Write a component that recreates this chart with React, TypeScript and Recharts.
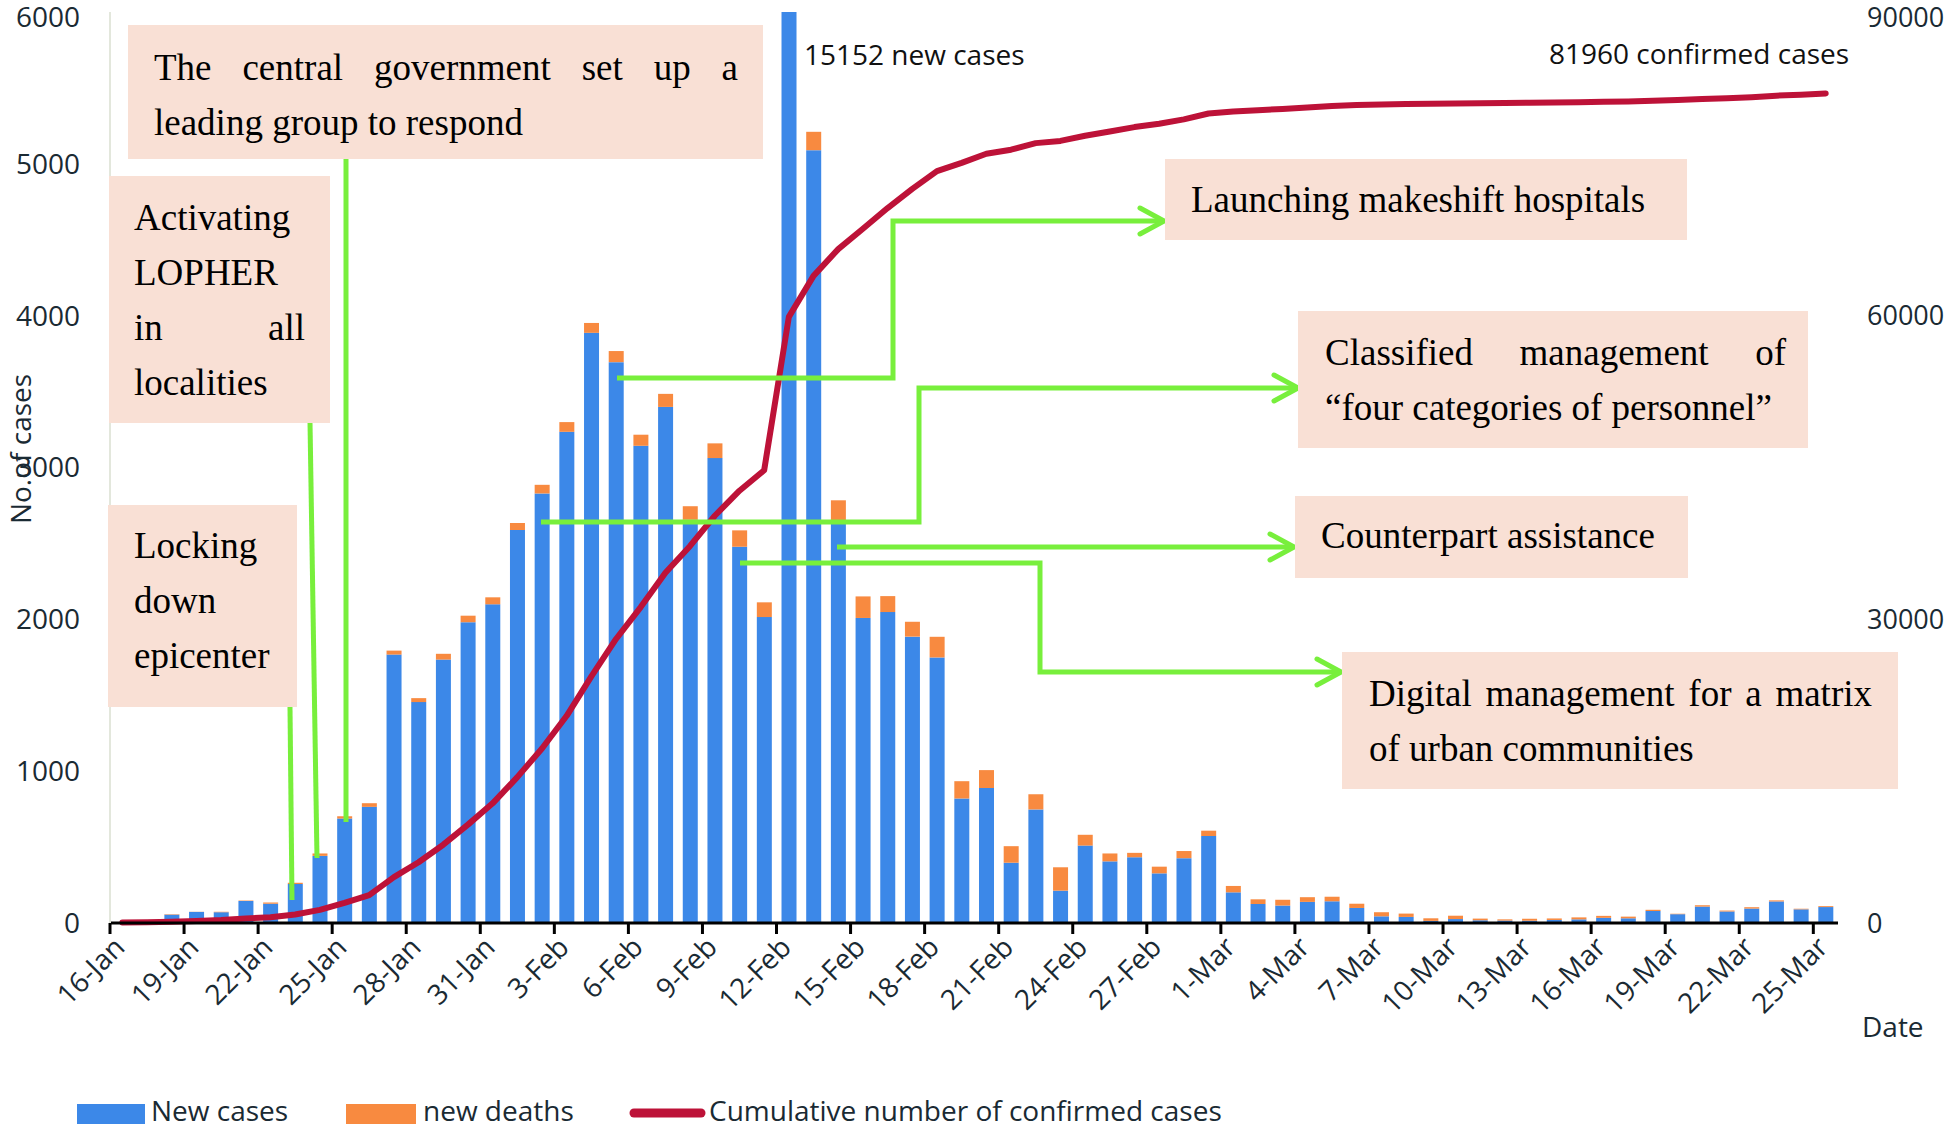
import React from 'react';
import { ComposedChart, Bar, Line, XAxis, YAxis } from 'recharts';

const dates = [
  '16-Jan','17-Jan','18-Jan','19-Jan','20-Jan','21-Jan','22-Jan','23-Jan','24-Jan','25-Jan','26-Jan','27-Jan','28-Jan','29-Jan','30-Jan','31-Jan',
  '1-Feb','2-Feb','3-Feb','4-Feb','5-Feb','6-Feb','7-Feb','8-Feb','9-Feb','10-Feb','11-Feb','12-Feb','13-Feb','14-Feb','15-Feb','16-Feb','17-Feb','18-Feb','19-Feb','20-Feb','21-Feb','22-Feb','23-Feb','24-Feb','25-Feb','26-Feb','27-Feb','28-Feb','29-Feb',
  '1-Mar','2-Mar','3-Mar','4-Mar','5-Mar','6-Mar','7-Mar','8-Mar','9-Mar','10-Mar','11-Mar','12-Mar','13-Mar','14-Mar','15-Mar','16-Mar','17-Mar','18-Mar','19-Mar','20-Mar','21-Mar','22-Mar','23-Mar','24-Mar','25-Mar',
];

const newCases = [
  4, 17, 55, 73, 71, 145, 127, 257, 442, 688, 765, 1768, 1455, 1735, 1981, 2099,
  2589, 2829, 3235, 3887, 3694, 3143, 3399, 2656, 3062, 2478, 2015, 15152, 5090, 2641, 2009, 2048, 1886, 1749, 820, 889, 397, 748, 213, 510, 406, 433, 327, 427, 573,
  202, 125, 115, 139, 143, 99, 44, 40, 14, 26, 18, 16, 15, 20, 24, 34, 31, 79, 58, 108, 76, 95, 142, 90, 105,
];

const newDeaths = [
  0, 0, 3, 1, 3, 3, 8, 8, 16, 15, 24, 26, 26, 38, 43, 46,
  45, 57, 64, 65, 73, 73, 86, 89, 97, 108, 97, 254, 121, 143, 142, 105, 98, 136, 114, 118, 109, 100, 154, 71, 52, 29, 44, 47, 35,
  42, 31, 38, 31, 30, 28, 27, 22, 17, 22, 11, 8, 13, 10, 13, 13, 11, 8, 3, 9, 6, 9, 7, 4, 6,
];

const cumulative = [
  45, 62, 121, 198, 291, 441, 574, 835, 1297, 1985, 2761, 4537, 5997, 7736, 9720, 11821,
  14411, 17238, 20471, 24363, 28060, 31211, 34598, 37251, 40235, 42708, 44730, 59882, 63932, 66576, 68586, 70635, 72528, 74280, 75101, 75993, 76396, 77046, 77265, 77780, 78193, 78630, 78961, 79393, 79969,
  80175, 80304, 80425, 80570, 80717, 80820, 80868, 80912, 80935, 80963, 80990, 81015, 81036, 81066, 81090, 81125, 81158, 81240, 81302, 81412, 81491, 81590, 81735, 81828, 81960,
];

const leftTicks = [0, 1000, 2000, 3000, 4000, 5000, 6000];
const rightTicks = [0, 30000, 60000, 90000];

const data = dates.map((d, i) => ({ date: d, cases: newCases[i], deaths: newDeaths[i], cum: cumulative[i] }));

const W = 1946;
const H = 1124;
const PLOT_LEFT = 110;
const PLOT_RIGHT = 1838;
const BAND = (PLOT_RIGHT - PLOT_LEFT) / dates.length;
const SANS = '"Open Sans", "Noto Sans", sans-serif';
const SERIF = '"Liberation Serif", "DejaVu Serif", serif';
const AXIS_TEXT = '#1a2a33';
const GREEN = '#78ef3c';

function XTick(props: any) {
  const { x, y, payload } = props;
  const ax = x + 4;
  const ay = y + 26;
  return (
    <g>
      <line x1={x - BAND / 2} x2={x - BAND / 2} y1={y} y2={y + 11} stroke="#000" strokeWidth={3} />
      <text x={ax} y={ay} transform={`rotate(-45 ${ax} ${ay})`} textAnchor="end" fontSize={28} fill={AXIS_TEXT} fontFamily={SANS}>
        {payload.value}
      </text>
    </g>
  );
}

function YTick(props: any) {
  const { x, y, payload, textAnchor, fontSize } = props;
  const yy = y < 30 ? y + 5 : y;
  return (
    <text x={x} y={yy} dy="0.355em" textAnchor={textAnchor} fontSize={fontSize} fill={AXIS_TEXT} fontFamily={SANS}>
      {payload.value}
    </text>
  );
}

type LineSpec = { t: string; j?: boolean };

function Box(p: { left: number; top: number; width: number; height: number; padL: number; padT: number; textW: number; lines: LineSpec[] }) {
  return (
    <div
      style={{
        position: 'absolute', left: p.left, top: p.top, width: p.width, height: p.height,
        background: '#f9e0d5', boxSizing: 'border-box', paddingLeft: p.padL, paddingTop: p.padT,
        fontFamily: SERIF, fontSize: 37, lineHeight: '55px', color: '#000',
      }}
    >
      {p.lines.map((l, i) => (
        <div
          key={i}
          style={
            l.j
              ? { width: p.textW, textAlign: 'justify', textAlignLast: 'justify' as any, whiteSpace: 'nowrap' }
              : { whiteSpace: 'nowrap' }
          }
        >
          {l.t}
        </div>
      ))}
    </div>
  );
}

function Arrow({ d, tipX, tipY }: { d: string; tipX: number; tipY: number }) {
  return (
    <g>
      <path d={d} fill="none" stroke={GREEN} strokeWidth={5} />
      <path d={`M${tipX - 24},${tipY - 13} L${tipX},${tipY} L${tipX - 24},${tipY + 13}`} fill="none" stroke={GREEN} strokeWidth={5} strokeLinecap="round" strokeLinejoin="round" />
    </g>
  );
}

export default function App() {
  return (
    <div style={{ position: 'relative', width: W, height: H, overflow: 'hidden', background: '#fff' }}>
      <style>{'body{margin:0}'}</style>
      <ComposedChart width={W} height={H} data={data} margin={{ top: 12, right: 0, bottom: 0, left: 0 }}>
        <XAxis
          dataKey="date"
          interval={2}
          height={201}
          tickSize={0}
          tickMargin={0}
          tickLine={false}
          axisLine={{ stroke: '#000', strokeWidth: 3 }}
          tick={<XTick />}
        />
        <YAxis
          yAxisId="left"
          width={110}
          domain={[0, 6000]}
          ticks={leftTicks}
          allowDataOverflow
          tickSize={0}
          tickMargin={30}
          tickLine={false}
          axisLine={{ stroke: '#e3e7dc', strokeWidth: 2 }}
          tick={<YTick fontSize={28} textAnchor="end" />}
        />
        <YAxis
          yAxisId="right"
          orientation="right"
          width={W - PLOT_RIGHT}
          domain={[0, 90000]}
          ticks={rightTicks}
          tickSize={0}
          tickMargin={29}
          tickLine={false}
          axisLine={false}
          tick={<YTick fontSize={27} textAnchor="start" />}
        />
        <Bar yAxisId="left" dataKey="cases" stackId="s" fill="#3c88e8" barSize={15} isAnimationActive={false} />
        <Bar yAxisId="left" dataKey="deaths" stackId="s" fill="#f88a40" barSize={15} isAnimationActive={false} />
        <Line
          yAxisId="right"
          type="linear"
          dataKey="cum"
          stroke="#bd1238"
          strokeWidth={6}
          dot={false}
          activeDot={false}
          strokeLinejoin="round"
          strokeLinecap="round"
          isAnimationActive={false}
        />
      </ComposedChart>

      <svg width={W} height={H} style={{ position: 'absolute', left: 0, top: 0, pointerEvents: 'none' }}>
        <path d="M346,159 L346,822" stroke={GREEN} strokeWidth={5} fill="none" />
        <path d="M310,422 L317,858" stroke={GREEN} strokeWidth={5} fill="none" />
        <path d="M290,707 L292,900" stroke={GREEN} strokeWidth={5} fill="none" />
        <Arrow d="M617,378 H893 V221 H1162" tipX={1164} tipY={221} />
        <Arrow d="M541,522 H919 V388 H1296" tipX={1298} tipY={388} />
        <Arrow d="M837,547 H1292" tipX={1294} tipY={547} />
        <Arrow d="M740,563 H1040 V672 H1339" tipX={1341} tipY={672} />

        <text x={804} y={65} fontSize={28} fontFamily={SANS} fill="#111">15152 new cases</text>
        <text x={1549} y={64} fontSize={28} fontFamily={SANS} fill="#111">81960 confirmed cases</text>

        <text transform="translate(31,449) rotate(-90)" textAnchor="middle" fontSize={28} fontFamily={SANS} fill={AXIS_TEXT}>No.of cases</text>
        <text x={1862} y={1037} fontSize={28} fontFamily={SANS} fill={AXIS_TEXT}>Date</text>

        <rect x={77} y={1104} width={68} height={24} fill="#3c88e8" />
        <text x={151} y={1121} fontSize={28} fontFamily={SANS} fill={AXIS_TEXT}>New cases</text>
        <rect x={346} y={1104} width={70} height={24} fill="#f88a40" />
        <text x={423} y={1121} fontSize={28} fontFamily={SANS} fill={AXIS_TEXT}>new deaths</text>
        <line x1={634} x2={701} y1={1113} y2={1113} stroke="#bd1238" strokeWidth={9} strokeLinecap="round" />
        <text x={709} y={1121} fontSize={28} fontFamily={SANS} fill={AXIS_TEXT}>Cumulative number of confirmed cases</text>
      </svg>

      <Box left={128} top={25} width={635} height={134} padL={26} padT={15} textW={584}
        lines={[{ t: 'The central government set up a', j: true }, { t: 'leading group to respond' }]} />
      <Box left={109} top={176} width={221} height={247} padL={25} padT={14} textW={171}
        lines={[{ t: 'Activating' }, { t: 'LOPHER' }, { t: 'in all', j: true }, { t: 'localities' }]} />
      <Box left={108} top={505} width={189} height={202} padL={26} padT={13} textW={150}
        lines={[{ t: 'Locking' }, { t: 'down' }, { t: 'epicenter' }]} />
      <Box left={1165} top={159} width={522} height={81} padL={26} padT={13} textW={460}
        lines={[{ t: 'Launching makeshift hospitals' }]} />
      <Box left={1298} top={311} width={510} height={137} padL={27} padT={14} textW={461}
        lines={[{ t: 'Classified management of', j: true }, { t: '\u201cfour categories of personnel\u201d' }]} />
      <Box left={1295} top={496} width={393} height={82} padL={26} padT={12} textW={340}
        lines={[{ t: 'Counterpart assistance' }]} />
      <Box left={1342} top={652} width={556} height={137} padL={27} padT={14} textW={503}
        lines={[{ t: 'Digital management for a matrix', j: true }, { t: 'of urban communities' }]} />
    </div>
  );
}
